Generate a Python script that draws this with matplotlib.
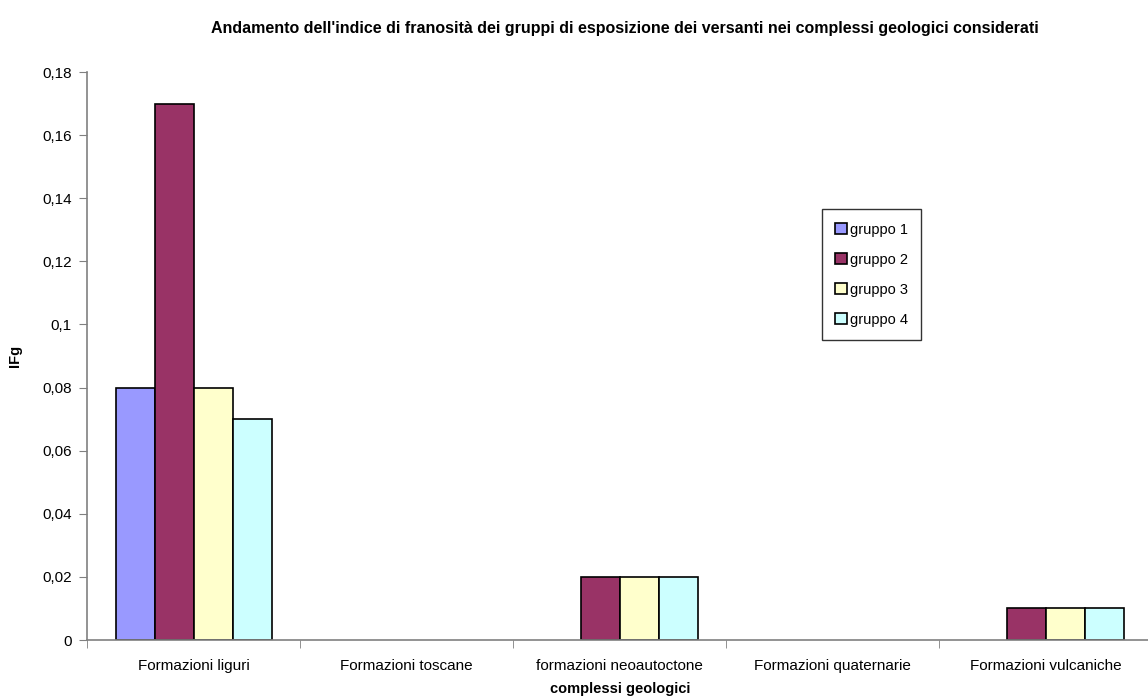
import matplotlib
matplotlib.use('Agg')
import matplotlib.pyplot as plt
from matplotlib.ticker import FuncFormatter, FixedLocator
import numpy as np

categorie = ['Formazioni liguri', 'Formazioni toscane', 'formazioni neoautoctone',
             'Formazioni quaternarie', 'Formazioni vulcaniche']
gruppi = ['gruppo 1', 'gruppo 2', 'gruppo 3', 'gruppo 4']
gruppo1 = [0.08, 0.0, 0.0, 0.0, 0.0]
gruppo2 = [0.17, 0.0, 0.02, 0.0, 0.01]
gruppo3 = [0.08, 0.0, 0.02, 0.0, 0.01]
gruppo4 = [0.07, 0.0, 0.02, 0.0, 0.01]
colori = ['#9999FF', '#993366', '#FFFFCC', '#CCFFFF']

plt.rcParams['font.family'] = ['Liberation Sans', 'DejaVu Sans']

fig = plt.figure(figsize=(11.48, 7), dpi=100)
ax = fig.add_axes([0.0758, 0.0857, 0.928, 0.8114])

x = np.arange(len(categorie))
larg = 0.183
serie = [gruppo1, gruppo2, gruppo3, gruppo4]
for i, (vals, col, nome) in enumerate(zip(serie, colori, gruppi)):
    bars = ax.bar(x + (i - 1.5) * larg, vals, larg, color=col,
                  edgecolor='black', linewidth=1.2, label=nome)
    # niente contorno per le barre a zero
    for b, v in zip(bars, vals):
        if v == 0:
            b.set_linewidth(0)

ax.set_xlim(-0.5, len(categorie) - 0.5)
ax.set_ylim(0, 0.18)
ax.set_yticks(np.arange(0, 0.181, 0.02))
ax.yaxis.set_major_formatter(FuncFormatter(lambda v, p: f'{v:g}'.replace('.', ',')))

ax.set_xticks(x)
ax.set_xticklabels(categorie, fontsize=11)
ax.xaxis.set_minor_locator(FixedLocator(np.arange(-0.5, len(categorie), 1.0)))
ax.tick_params(axis='x', which='major', length=0, pad=14)
ax.tick_params(axis='x', which='minor', length=6, color='#808080', direction='out')
ax.tick_params(axis='y', length=6, color='#808080', direction='out', labelsize=11, pad=5)

for s in ['top', 'right']:
    ax.spines[s].set_visible(False)
for s in ['left', 'bottom']:
    ax.spines[s].set_color('#808080')
    ax.spines[s].set_linewidth(1.2)

ax.set_ylabel('IFg', fontsize=10.5, fontweight='bold')
ax.yaxis.set_label_coords(-0.061, 0.5)
ax.set_xlabel('complessi geologici', fontsize=10.5, fontweight='bold', labelpad=6)
fig.text(0.544, 0.959, "Andamento dell'indice di franosità dei gruppi di esposizione dei versanti nei complessi geologici considerati",
         ha='center', va='center', fontsize=11.5, fontweight='bold')

leg = ax.legend(loc='upper left', bbox_to_anchor=(0.683, 0.771), fontsize=10.5,
                frameon=True, fancybox=False, edgecolor='black',
                handlelength=0.8, handleheight=0.8, handletextpad=0.2,
                labelspacing=1.1, borderpad=0.9)
leg.get_frame().set_linewidth(1.0)

fig.savefig('out.png', dpi=100)
